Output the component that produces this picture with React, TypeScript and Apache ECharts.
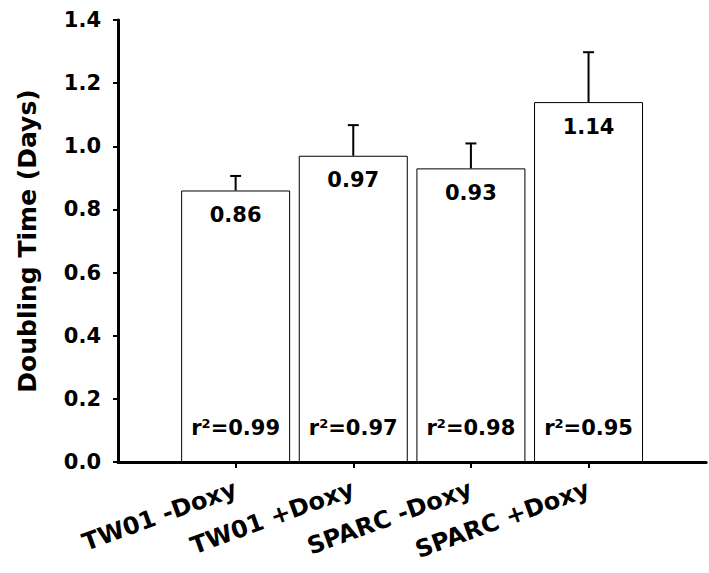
import React, { useEffect, useRef } from "react";
import * as echarts from "echarts";

const categories = ["TW01 -Doxy", "TW01 +Doxy", "SPARC -Doxy", "SPARC +Doxy"];
const means = [0.86, 0.97, 0.93, 1.14];
const upper = [0.906, 1.067, 1.009, 1.298];
const r2Values = ["0.99", "0.97", "0.98", "0.95"];
const yTicks = [0, 0.2, 0.4, 0.6, 0.8, 1.0, 1.2, 1.4];

const FONT = "DejaVu Sans";

export default function App() {
  const ref = useRef<HTMLDivElement>(null);
  useEffect(() => {
    if (!ref.current) return;
    const chart = echarts.init(ref.current, undefined, { renderer: "svg" });
    const axisData = ["", ...categories, ""];
    const barData: any[] = ["-", ...means, "-"];
    const errData = means.map((m, i) => [i + 1, m, upper[i]]);
    const option: any = {
      animation: false,
      backgroundColor: "#ffffff",
      grid: { left: 118, right: -9, top: 20, bottom: 111, containLabel: false },
      xAxis: {
        type: "category",
        data: axisData,
        boundaryGap: false,
        axisLine: { show: true, lineStyle: { color: "#000", width: 3 } },
        axisTick: {
          show: true,
          length: 6,
          lineStyle: { color: "#000", width: 2 },
          interval: (idx: number, val: string) => val !== "",
        },
        axisLabel: {
          interval: 0,
          rotate: 20,
          margin: 26,
          fontFamily: FONT,
          fontWeight: "bold",
          fontSize: 24,
          color: "#000",
        },
        splitLine: { show: false },
      },
      yAxis: {
        type: "value",
        min: yTicks[0],
        max: yTicks[yTicks.length - 1],
        interval: 0.2,
        name: "Doubling Time (Days)",
        nameLocation: "middle",
        nameGap: 78,
        nameTextStyle: { fontFamily: FONT, fontWeight: "bold", fontSize: 25, color: "#000" },
        axisLine: { show: true, lineStyle: { color: "#000", width: 3 } },
        axisTick: { show: true, length: 5, lineStyle: { color: "#000", width: 2 } },
        axisLabel: {
          margin: 17,
          fontFamily: FONT,
          fontWeight: "bold",
          fontSize: 21,
          color: "#000",
          formatter: (v: number) => v.toFixed(1),
        },
        splitLine: { show: false },
      },
      series: [
        {
          type: "bar",
          data: barData,
          barWidth: 109,
          itemStyle: { color: "#fff", borderColor: "#000", borderWidth: 1 },
          label: {
            show: true,
            position: "insideTop",
            distance: 14,
            fontFamily: FONT,
            fontWeight: "bold",
            fontSize: 21,
            color: "#000",
            formatter: (p: any) => Number(p.value).toFixed(2),
          },
        },
        {
          type: "bar",
          data: barData,
          barWidth: 109,
          barGap: "-100%",
          itemStyle: { color: "rgba(0,0,0,0)", borderWidth: 0 },
          label: {
            show: true,
            position: "insideBottom",
            distance: 24,
            formatter: (p: any) => `{a|r}{b|2}{a|=${r2Values[p.dataIndex - 1]}}`,
            rich: {
              a: { fontFamily: FONT, fontWeight: "bold", fontSize: 21, color: "#000" },
              b: {
                fontFamily: FONT,
                fontWeight: "bold",
                fontSize: 13,
                color: "#000",
                verticalAlign: "top",
              },
            },
          },
          silent: true,
        },
        {
          type: "custom",
          data: errData,
          renderItem: (params: any, api: any) => {
            const idx = api.value(0);
            const p0 = api.coord([idx, api.value(1)]);
            const p1 = api.coord([idx, api.value(2)]);
            const half = 5.5;
            return {
              type: "group",
              children: [
                {
                  type: "line",
                  shape: { x1: p0[0], y1: p0[1], x2: p1[0], y2: p1[1] },
                  style: { stroke: "#000", lineWidth: 2 },
                },
                {
                  type: "line",
                  shape: { x1: p1[0] - half, y1: p1[1], x2: p1[0] + half, y2: p1[1] },
                  style: { stroke: "#000", lineWidth: 2 },
                },
              ],
            };
          },
        },
      ],
    };
    chart.setOption(option);
    return () => chart.dispose();
  }, []);
  return (
    <div
      ref={ref}
      style={{ position: "fixed", left: 0, top: 0, width: 709, height: 573, background: "#fff" }}
    />
  );
}
